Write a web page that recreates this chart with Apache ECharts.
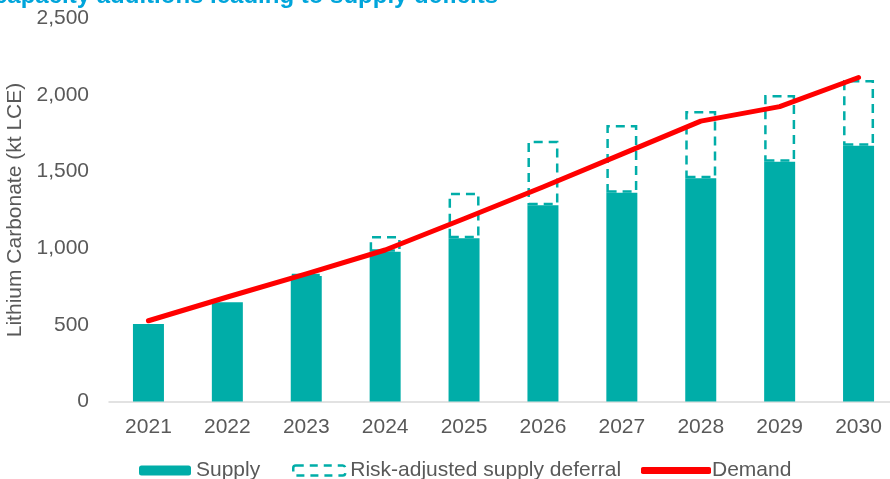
<!DOCTYPE html>
<html>
<head>
<meta charset="utf-8">
<script src="https://cdn.jsdelivr.net/npm/echarts@6/dist/echarts.min.js"></script>
<style>
html,body{margin:0;padding:0;background:#fff;}
#chart{width:890px;height:479px;}
</style>
</head>
<body>
<div id="chart"></div>
<script>
const categories = ['2021','2022','2023','2024','2025','2026','2027','2028','2029','2030'];
const supply = [506, 648, 819, 978, 1065, 1281, 1363, 1457, 1565, 1670];
const deferral = [null, null, 13, 102, 298, 421, 442, 439, 435, 428];
const demand = [527, 682, 833, 989, 1193, 1400, 1615, 1830, 1925, 2115];
const yTicks = [0, 500, 1000, 1500, 2000, 2500];

const teal = '#00ADA8';
const grey = '#595959';
const font = '"Liberation Sans", Arial, sans-serif';
const fs = 21;

const chart = echarts.init(document.getElementById('chart'));
chart.setOption({
  animation: false,
  backgroundColor: '#fff',
  title: {
    text: 'capacity additions leading to supply deficits',
    left: -6, top: -16, padding: 0,
    textStyle: {color: '#00A5DB', fontSize: 24, fontWeight: 'bold', fontFamily: font}
  },
  grid: {left: 109, top: 18.5, width: 789, bottom: 77.5, outerBoundsMode: 'none', containLabel: false},
  legend: [
    {data: ['Supply'], left: 139, top: 460, padding: 0, itemWidth: 52, itemHeight: 10,
     textStyle: {color: grey, fontSize: fs, fontFamily: font, padding: [0,0,0,0]}},
    {data: [{name: 'Risk-adjusted supply deferral',
             itemStyle: {color: 'rgba(255,255,255,0)', borderColor: teal, borderWidth: 2.5, borderType: [8, 6]}}],
     left: 292, top: 460, padding: 0, itemWidth: 52, itemHeight: 10,
     textStyle: {color: grey, fontSize: fs, fontFamily: font, padding: [0,0,0,0]}},
    {data: [{name: 'Demand', icon: 'roundRect'}], left: 641, top: 460, padding: 0, itemWidth: 70, itemHeight: 7,
     textStyle: {color: grey, fontSize: fs, fontFamily: font, padding: [0,0,0,-4]}}
  ],
  xAxis: {
    type: 'category', data: categories,
    axisLine: {lineStyle: {color: '#D9D9D9', width: 1.5}},
    axisTick: {show: false},
    axisLabel: {color: grey, fontSize: fs, fontFamily: font, margin: 15}
  },
  yAxis: {
    type: 'value', min: 0, max: 2500, interval: 500,
    name: 'Lithium Carbonate (kt LCE)', nameLocation: 'middle', nameGap: 70,
    nameTextStyle: {color: grey, fontSize: fs, fontFamily: font},
    splitLine: {show: false}, axisLine: {show: false}, axisTick: {show: false},
    axisLabel: {color: grey, fontSize: fs, fontFamily: font, margin: 20,
      formatter: v => yTicks.includes(v) ? v.toLocaleString('en-US') : ''}
  },
  series: [
    {name: 'Supply', type: 'bar', stack: 's', data: supply, barWidth: 31,
     itemStyle: {color: teal}},
    {name: 'Risk-adjusted supply deferral', type: 'bar', stack: 's', data: deferral, barWidth: 31,
     itemStyle: {color: 'rgba(255,255,255,0)', borderColor: teal, borderWidth: 2.5, borderType: [9, 6]}},
    {name: 'Demand', type: 'line', data: demand, symbol: 'none', z: 5,
     lineStyle: {color: '#FF0000', width: 5, cap: 'round', join: 'round'},
     itemStyle: {color: '#FF0000'}}
  ]
});
</script>
</body>
</html>
